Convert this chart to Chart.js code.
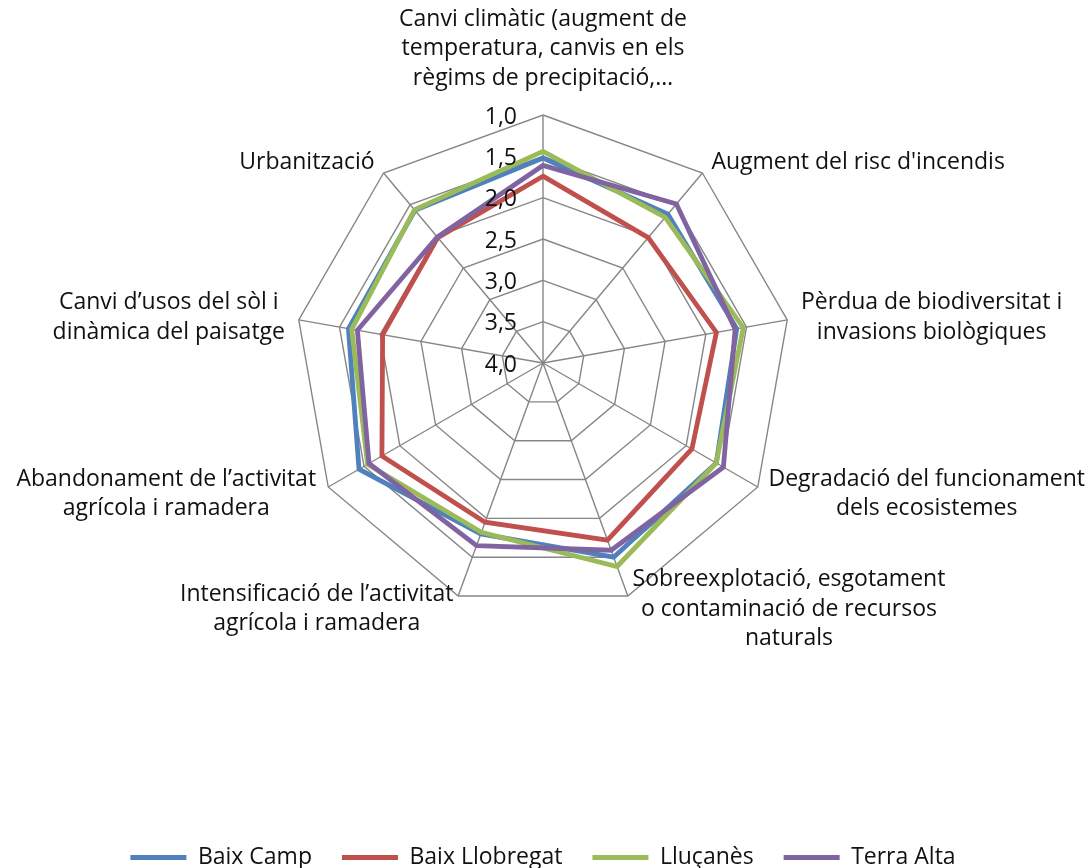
<!DOCTYPE html>
<html>
<head>
<meta charset="utf-8">
<script src="https://cdn.jsdelivr.net/npm/chart.js@4"></script>
<style>
  html, body { margin: 0; padding: 0; background: #fff; }
  #chartCanvas { display: block; }
</style>
</head>
<body>
<canvas id="chartCanvas" width="1091" height="868"></canvas>
<script>
// --- data (scale runs 1,0 outside -> 4,0 centre) ---
const categories = [
  ["Canvi climàtic (augment de", "temperatura, canvis en els", "règims de precipitació,…"],
  ["Augment del risc d'incendis"],
  ["Pèrdua de biodiversitat i", "invasions biològiques"],
  ["Degradació del funcionament", "dels ecosistemes"],
  ["Sobreexplotació, esgotament", "o contaminació de recursos", "naturals"],
  ["Intensificació de l’activitat", "agrícola i ramadera"],
  ["Abandonament de l’activitat", "agrícola i ramadera"],
  ["Canvi d’usos del sòl i", "dinàmica del paisatge"],
  ["Urbanització"]
];

const baixCamp      = [1.52, 1.65, 1.62, 1.58, 1.50, 1.80, 1.43, 1.61, 1.59];
const baixLlobregat = [1.74, 2.02, 1.87, 1.92, 1.72, 1.95, 1.75, 2.03, 2.02];
const llucanes      = [1.44, 1.70, 1.54, 1.58, 1.38, 1.82, 1.55, 1.65, 1.58];
const terraAlta     = [1.61, 1.49, 1.64, 1.48, 1.59, 1.65, 1.57, 1.72, 2.01];

const tickValues = [1.0, 1.5, 2.0, 2.5, 3.0, 3.5, 4.0];

const FONT = "'Open Sans'";
const TEXT = "#111";

// Excel-like axis text: tick numbers left of the vertical axis, centred label blocks
const radarText = {
  id: "radarText",
  afterDatasetsDraw(chart) {
    const scale = chart.scales.r;
    const ctx = chart.ctx;
    ctx.save();
    ctx.fillStyle = TEXT;

    // tick labels
    ctx.font = `23px ${FONT}`;
    ctx.textAlign = "right";
    ctx.textBaseline = "middle";
    tickValues.forEach(v => {
      const y = scale.yCenter - scale.getDistanceFromCenterForValue(v);
      ctx.fillText(v.toFixed(1).replace(".", ","), scale.xCenter - 26, y + 2);
    });

    // point labels
    const lineH = 29.5;
    ctx.textAlign = "center";
    categories.forEach((lines, i) => {
      const a = scale.getIndexAngle(i);
      const p = scale.getPointPosition(i, scale.drawingArea + 14);
      const w = Math.max(...lines.map(l => ctx.measureText(l).width));
      const h = lines.length * lineH;
      const s = Math.sin(a);
      let left;
      if (s > 0.1) left = p.x;
      else if (s < -0.1) left = p.x - w;
      else left = p.x - w / 2;
      left = Math.max(8, Math.min(left, chart.width - 6 - w));
      let top = Math.cos(a) > 0.9 ? p.y - 8 - h : p.y - h / 2;
      lines.forEach((l, k) => {
        ctx.fillText(l, left + w / 2, top + lineH * (k + 0.5));
      });
    });
    ctx.restore();
  }
};

const canvas = document.getElementById("chartCanvas");

new Chart(canvas, {
  type: "radar",
  data: {
    labels: categories,
    datasets: [
      { label: "Baix Camp", data: baixCamp, borderColor: "#4F81BD", order: 4 },
      { label: "Baix Llobregat", data: baixLlobregat, borderColor: "#C0504D", order: 3 },
      { label: "Lluçanès", data: llucanes, borderColor: "#9BBB59", order: 2 },
      { label: "Terra Alta", data: terraAlta, borderColor: "#8064A2", order: 1 }
    ].map(d => ({
      ...d,
      backgroundColor: d.borderColor,
      fill: false,
      borderWidth: 4.8,
      pointRadius: 0,
      pointHoverRadius: 0,
      tension: 0
    }))
  },
  options: {
    responsive: false,
    animation: false,
    layout: { padding: { left: 0, right: 5, top: 115, bottom: -11 } },
    plugins: {
      legend: {
        position: "bottom",
        title: { display: true, text: " ", color: "rgba(0,0,0,0)", font: { size: 10, lineHeight: 1 }, padding: { top: 195, bottom: 0 } },
        labels: {
          usePointStyle: true,
          pointStyle: "line",
          pointStyleWidth: 56,
          padding: 30,
          color: TEXT,
          font: { family: FONT, size: 23 },
          sort: (a, b) => a.datasetIndex - b.datasetIndex
        }
      },
      tooltip: { enabled: false }
    },
    scales: {
      r: {
        min: 1,
        max: 4,
        reverse: true,
        ticks: { display: false, stepSize: 0.5 },
        pointLabels: { display: false },
        grid: { color: "#868686", lineWidth: 1.4 },
        angleLines: { color: "#868686", lineWidth: 1.4 }
      }
    }
  },
  plugins: [radarText]
});
</script>
</body>
</html>
